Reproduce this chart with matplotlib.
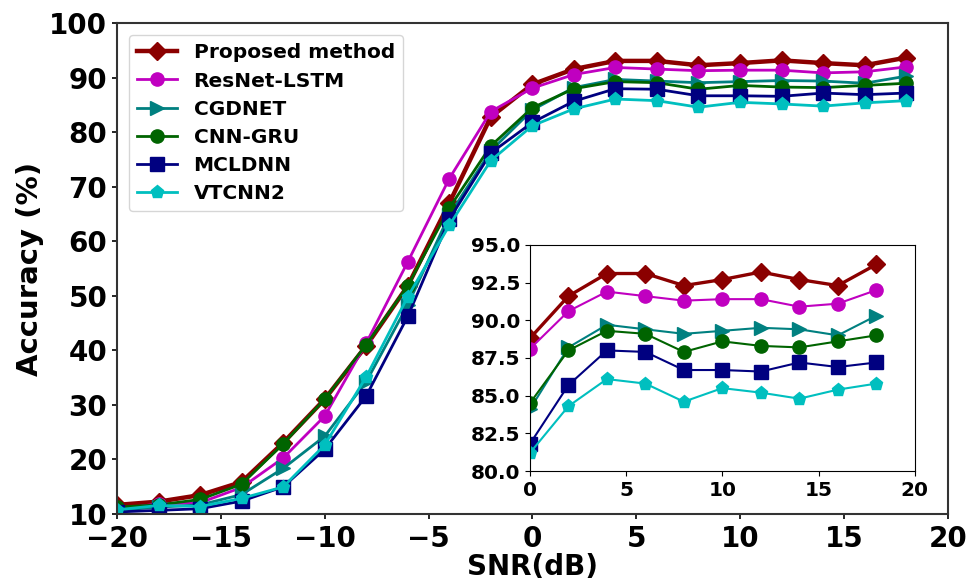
import numpy as np
import matplotlib
matplotlib.use("Agg")
import matplotlib.pyplot as plt

# SNR points (dB)
snr = list(range(-20, 20, 2))

# classification accuracy (%) per model
proposed = [11.6, 12.2, 13.4, 15.8, 23.0, 31.0, 40.8, 51.8, 67.0, 82.8,
            88.8, 91.6, 93.1, 93.1, 92.3, 92.7, 93.2, 92.7, 92.3, 93.7]
resnet_lstm = [10.8, 11.8, 12.0, 14.8, 20.2, 27.9, 41.3, 56.2, 71.5, 83.8,
               88.1, 90.6, 91.9, 91.6, 91.3, 91.4, 91.4, 90.9, 91.1, 92.0]
cgdnet = [10.6, 11.2, 11.6, 13.5, 18.3, 24.2, 34.2, 48.3, 64.8, 76.6,
          84.1, 88.2, 89.7, 89.4, 89.1, 89.3, 89.5, 89.4, 89.0, 90.3]
cnn_gru = [11.2, 11.6, 12.6, 15.4, 22.8, 31.0, 41.0, 51.8, 66.1, 77.5,
           84.5, 88.0, 89.3, 89.1, 87.9, 88.6, 88.3, 88.2, 88.6, 89.0]
mcldnn = [10.3, 10.6, 10.9, 12.3, 14.9, 21.8, 31.6, 46.2, 64.0, 76.2,
          81.8, 85.7, 88.0, 87.9, 86.7, 86.7, 86.6, 87.2, 86.9, 87.2]
vtcnn2 = [10.7, 11.5, 11.3, 12.8, 14.9, 22.6, 35.1, 49.8, 62.9, 74.8,
          81.2, 84.3, 86.1, 85.8, 84.6, 85.5, 85.2, 84.8, 85.4, 85.8]

series = [
    ("Proposed method", proposed, "#8b0000", "D", 3.2),
    ("ResNet-LSTM", resnet_lstm, "#c000c0", "o", 2.0),
    ("CGDNET", cgdnet, "#008080", ">", 2.0),
    ("CNN-GRU", cnn_gru, "#006400", "o", 2.0),
    ("MCLDNN", mcldnn, "#000080", "s", 2.0),
    ("VTCNN2", vtcnn2, "#00bfbf", "p", 2.0),
]

plt.rcParams["font.family"] = "DejaVu Sans"
plt.rcParams["font.weight"] = "bold"

fig = plt.figure(figsize=(9.67, 5.83), dpi=100)
ax = fig.add_axes([0.121, 0.119, 0.859, 0.841])

for name, vals, col, mk, lw in series:
    ax.plot(snr, vals, color=col, marker=mk, lw=lw, ms=9.5, label=name)

ax.set_xlim(-20, 20)
ax.set_ylim(10, 100)
ax.set_xticks(range(-20, 21, 5))
ax.set_yticks(range(10, 101, 10))
ax.tick_params(labelsize=20, width=1.2)
ax.tick_params(axis="x", pad=5)
for lab in ax.get_xticklabels() + ax.get_yticklabels():
    lab.set_fontweight("bold")
ax.set_xlabel("SNR(dB)", fontsize=20, fontweight="bold", labelpad=0)
ax.set_ylabel("Accuracy (%)", fontsize=21, fontweight="bold", labelpad=4)
for sp in ax.spines.values():
    sp.set_linewidth(1.5)
    sp.set_color("#333333")

leg = ax.legend(loc="upper left", prop={"size": 14.5, "weight": "bold"},
                labelspacing=0.45, borderaxespad=0.6)

# zoomed view of the high-SNR region
ins = fig.add_axes([0.548, 0.192, 0.398, 0.388])
for name, vals, col, mk, lw in series:
    ins.plot(snr[10:], vals[10:], color=col, marker=mk, lw=lw * 0.75, ms=9.5)
ins.set_xlim(0, 20)
ins.set_ylim(80, 95)
ins.set_xticks(range(0, 21, 5))
ins.set_yticks(np.arange(80, 95.1, 2.5))
ins.yaxis.set_major_formatter(matplotlib.ticker.FormatStrFormatter("%.1f"))
ins.tick_params(labelsize=14.5)
for lab in ins.get_xticklabels() + ins.get_yticklabels():
    lab.set_fontweight("bold")

fig.savefig("out.png", dpi=100)
